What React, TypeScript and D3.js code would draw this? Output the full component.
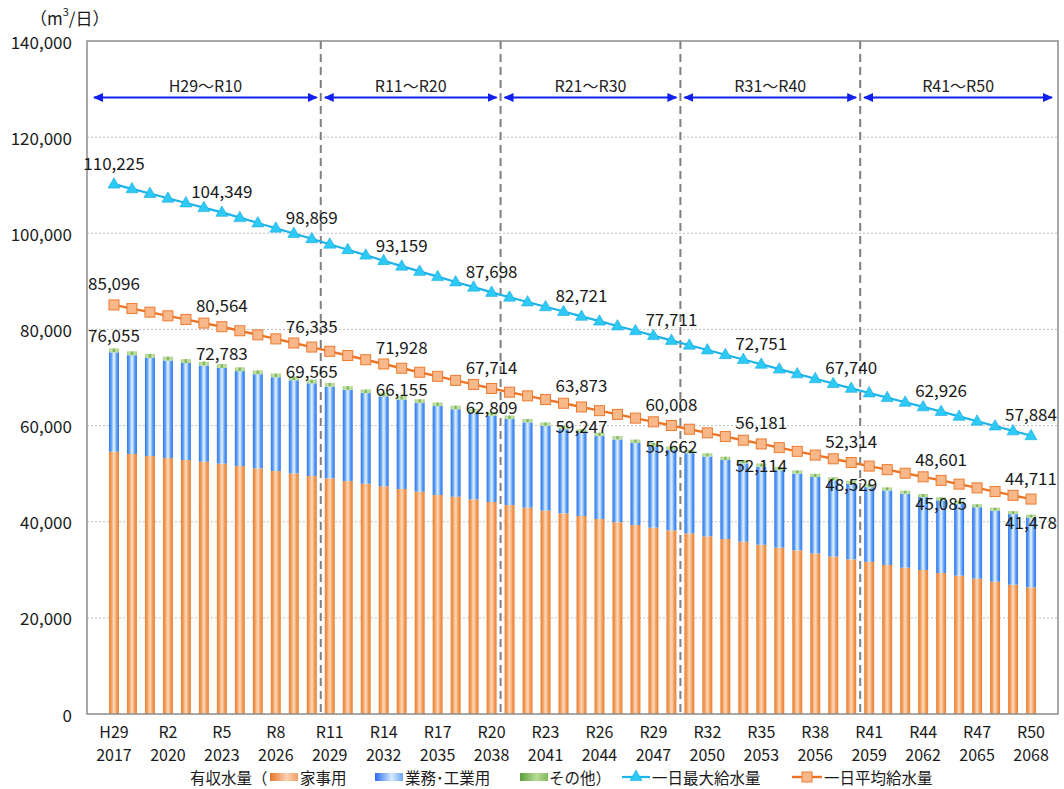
import React from 'react';
import * as d3 from 'd3';

// ---------- DATA ----------
const eraLabels = [
  'H29','H30','R1','R2','R3','R4','R5','R6','R7','R8','R9','R10','R11','R12','R13','R14','R15','R16','R17','R18',
  'R19','R20','R21','R22','R23','R24','R25','R26','R27','R28','R29','R30','R31','R32','R33','R34','R35','R36','R37','R38',
  'R39','R40','R41','R42','R43','R44','R45','R46','R47','R48','R49','R50',
];
const yearLabels = [
  '2017','2018','2019','2020','2021','2022','2023','2024','2025','2026','2027','2028','2029','2030','2031','2032','2033','2034','2035','2036',
  '2037','2038','2039','2040','2041','2042','2043','2044','2045','2046','2047','2048','2049','2050','2051','2052','2053','2054','2055','2056',
  '2057','2058','2059','2060','2061','2062','2063','2064','2065','2066','2067','2068',
];

// 家事用
const household = [
  54560, 54080, 53660, 53250, 52830, 52480, 52070, 51580, 51100, 50540,
  50060, 49500, 49020, 48460, 47900, 47360, 46800, 46240, 45550, 45200,
  44650, 44100, 43470, 42920, 42300, 41740, 41180, 40560, 39900, 39310,
  38760, 38200, 37560, 36950, 36400, 35840, 35200, 34600, 34040, 33400,
  32750, 32170, 31650, 31000, 30440, 29950, 29330, 28770, 28150, 27520,
  26900, 26350,
];
// 業務・工業用
const business = [
  20675, 20555, 20428, 20292, 20187, 20020, 19918, 19748, 19592, 19517,
  19360, 19289, 19088, 18972, 18856, 18720, 18599, 18488, 18512, 18196,
  18080, 17973, 17888, 17732, 17646, 17500, 17351, 17258, 17202, 17086,
  16920, 16766, 16698, 16602, 16446, 16300, 16238, 16128, 15972, 15906,
  15840, 15703, 15538, 15502, 15376, 15180, 15119, 14958, 14862, 14776,
  14680, 14512,
];
// その他
const other = [
  820, 815, 812, 808, 803, 800, 795, 792, 788, 783,
  780, 776, 772, 768, 764, 760, 756, 752, 748, 744,
  740, 736, 732, 728, 724, 720, 716, 712, 708, 704,
  700, 696, 692, 688, 684, 680, 676, 672, 668, 664,
  660, 656, 652, 648, 644, 640, 636, 632, 628, 624,
  620, 616,
];
// 一日最大給水量
const dailyMax = [
  110225, 109250, 108270, 107290, 106310, 105330, 104349, 103250, 102150, 101060,
  99960, 98869, 97730, 96590, 95450, 94300, 93159, 92070, 90980, 89880,
  88790, 87698, 86700, 85710, 84710, 83720, 82721, 81720, 80720, 79720,
  78710, 77711, 76720, 75730, 74740, 73740, 72751, 71750, 70750, 69740,
  68740, 67740, 66780, 65810, 64850, 63890, 62926, 61920, 60910, 59900,
  58890, 57884,
];
// 一日平均給水量
const dailyAvg = [
  85096, 84340, 83590, 82830, 82080, 81320, 80564, 79720, 78870, 78030,
  77180, 76335, 75450, 74570, 73690, 72810, 71928, 71090, 70240, 69400,
  68560, 67714, 66950, 66180, 65410, 64640, 63873, 63100, 62330, 61550,
  60780, 60008, 59240, 58480, 57710, 56950, 56181, 55410, 54640, 53860,
  53090, 52314, 51570, 50830, 50090, 49340, 48601, 47820, 47040, 46270,
  45490, 44711,
];
// 有収水量 totals (labelled)
const totalLabelled = [
  76055, 72783, 69565, 66155, 62809, 59247, 55662, 52114, 48529, 45085, 41478,
];
const labelIndices = [0, 6, 11, 16, 21, 26, 31, 36, 41, 46, 51];
const periodBreaks = [-1.5, 11.5, 21.5, 31.5, 41.5, 52.5];
const periodLabels = ['H29～R10', 'R11～R20', 'R21～R30', 'R31～R40', 'R41～R50'];
const yTicks = [0, 20000, 40000, 60000, 80000, 100000, 120000, 140000];

const FONT = "'Noto Sans CJK JP', 'Noto Sans', sans-serif";

export default function App() {
  const W = 1064, H = 789;
  const left = 87, right = 1058, top = 41, bottom = 714;
  const x = d3.scaleLinear().domain([-1.5, 52.5]).range([left, right]);
  const y = d3.scaleLinear().domain([0, 140000]).range([bottom, top]);
  const fmt = d3.format(',');
  const barW = 10;

  const rows = eraLabels.map((_, i) => ({
    i,
    household: household[i],
    business: business[i],
    other: other[i],
  }));
  const keys = ['household', 'business', 'other'];
  const stack = d3.stack<any>().keys(keys)(rows);
  const fills: Record<string, string> = {
    household: 'url(#gOrange)',
    business: 'url(#gBlue)',
    other: 'url(#gGreen)',
  };

  const lineGen = d3.line<number>().x((_, i) => x(i)).y((d) => y(d));
  const tri = d3.symbol().type(d3.symbolTriangle).size(62)();

  const xTickIdx = eraLabels.map((_, i) => i).filter((i) => i % 3 === 0);

  return (
    <svg width={W} height={H} style={{ position: 'absolute', left: 0, top: 0, background: '#fff' }}
      fontFamily={FONT}>
      <defs>
        <linearGradient id="gOrange" x1="0" x2="1" y1="0" y2="0">
          <stop offset="0" stopColor="#ec8132" />
          <stop offset="0.22" stopColor="#f09a58" />
          <stop offset="0.45" stopColor="#fcd2ae" />
          <stop offset="0.55" stopColor="#fcd2ae" />
          <stop offset="0.78" stopColor="#f09a58" />
          <stop offset="1" stopColor="#ec8132" />
        </linearGradient>
        <linearGradient id="gBlue" x1="0" x2="1" y1="0" y2="0">
          <stop offset="0" stopColor="#2f78ee" />
          <stop offset="0.22" stopColor="#5b9cf3" />
          <stop offset="0.45" stopColor="#d4e9fb" />
          <stop offset="0.55" stopColor="#d4e9fb" />
          <stop offset="0.78" stopColor="#5b9cf3" />
          <stop offset="1" stopColor="#2f78ee" />
        </linearGradient>
        <linearGradient id="gGreen" x1="0" x2="1" y1="0" y2="0">
          <stop offset="0" stopColor="#a5cf83" />
          <stop offset="0.3" stopColor="#c9e3ae" />
          <stop offset="0.45" stopColor="#7fb85a" />
          <stop offset="0.55" stopColor="#7fb85a" />
          <stop offset="0.7" stopColor="#c9e3ae" />
          <stop offset="1" stopColor="#a5cf83" />
        </linearGradient>
        <linearGradient id="lgOrange" x1="0" x2="1" y1="0" y2="0">
          <stop offset="0" stopColor="#e8742a" />
          <stop offset="0.6" stopColor="#fbd2b2" />
          <stop offset="1" stopColor="#f2a066" />
        </linearGradient>
        <linearGradient id="lgBlue" x1="0" x2="1" y1="0" y2="0">
          <stop offset="0" stopColor="#2a6cf0" />
          <stop offset="0.6" stopColor="#d6eafc" />
          <stop offset="1" stopColor="#6aa6f4" />
        </linearGradient>
        <linearGradient id="lgGreen" x1="0" x2="1" y1="0" y2="0">
          <stop offset="0" stopColor="#5e9e3e" />
          <stop offset="0.6" stopColor="#b8dc98" />
          <stop offset="1" stopColor="#7fb85a" />
        </linearGradient>
        <marker id="arrHead" viewBox="0 0 10 10" refX="9" refY="5" markerWidth="10" markerHeight="10"
          markerUnits="userSpaceOnUse" orient="auto-start-reverse">
          <path d="M0,0.5 L10,5 L0,9.5 Z" fill="#1020f0" />
        </marker>
      </defs>

      {/* gridlines */}
      {yTicks.filter((t) => t > 0 && t < 140000).map((t) => (
        <line key={'g' + t} x1={left} x2={right} y1={y(t)} y2={y(t)}
          stroke="#c0c0c0" strokeWidth={1} strokeDasharray="2,2" />
      ))}

      {/* bars */}
      {stack.map((layer) => (
        <g key={layer.key}>
          {layer.map((d, i) => (
            <rect key={i} x={x(i) - barW / 2} width={barW}
              y={y(d[1])} height={Math.max(0, y(d[0]) - y(d[1]))}
              fill={fills[layer.key]} />
          ))}
        </g>
      ))}

      {/* period dashed separators */}
      {periodBreaks.slice(1, -1).map((b) => (
        <line key={'d' + b} x1={x(b)} x2={x(b)} y1={top} y2={bottom}
          stroke="#7f7f7f" strokeWidth={2} strokeDasharray="8,5" />
      ))}

      {/* frame */}
      <rect x={left} y={top} width={right - left} height={bottom - top}
        fill="none" stroke="#8c8c8c" strokeWidth={1.5} />

      {/* period arrows */}
      {periodLabels.map((lab, k) => {
        const a = x(periodBreaks[k]) + (k === 0 ? 7 : 4);
        const b = x(periodBreaks[k + 1]) - (k === periodLabels.length - 1 ? 6 : 4);
        return (
          <g key={'p' + k}>
            <line x1={a} x2={b} y1={97.5} y2={97.5} stroke="#1020f0" strokeWidth={2.2}
              markerStart="url(#arrHead)" markerEnd="url(#arrHead)" />
            <text x={(a + b) / 2} y={85} textAnchor="middle" dominantBaseline="central"
              fontSize={16} fill="#222">{lab}</text>
          </g>
        );
      })}

      {/* lines */}
      <path d={lineGen(dailyMax) || ''} fill="none" stroke="#1cb2ea" strokeWidth={2.2} />
      {dailyMax.map((v, i) => (
        <path key={'t' + i} d={tri || ''} transform={`translate(${x(i)},${y(v) + 0.5})`}
          fill="#2ccaf5" stroke="#1aa8e0" strokeWidth={0.6} />
      ))}
      <path d={lineGen(dailyAvg) || ''} fill="none" stroke="#ec7424" strokeWidth={2.4} />
      {dailyAvg.map((v, i) => (
        <rect key={'s' + i} x={x(i) - 5} y={y(v) - 5} width={10} height={10}
          fill="#f9b88a" stroke="#ec7a30" strokeWidth={1} />
      ))}

      {/* data labels */}
      {labelIndices.map((i) => (
        <text key={'lm' + i} x={x(i)} y={y(dailyMax[i]) - 22} textAnchor="middle"
          dominantBaseline="central" fontSize={17} fill="#1a1a1a">{fmt(dailyMax[i])}</text>
      ))}
      {labelIndices.map((i) => (
        <text key={'la' + i} x={x(i)} y={y(dailyAvg[i]) - 22} textAnchor="middle"
          dominantBaseline="central" fontSize={17} fill="#1a1a1a">{fmt(dailyAvg[i])}</text>
      ))}
      {labelIndices.map((i, k) => (
        <text key={'lt' + i} x={x(i)} y={y(totalLabelled[k]) - 14 + 21 * (i / 51)} textAnchor="middle"
          dominantBaseline="central" fontSize={17} fill="#1a1a1a">{fmt(totalLabelled[k])}</text>
      ))}

      {/* y axis labels */}
      {yTicks.map((t) => (
        <text key={'y' + t} x={72} y={y(t)} textAnchor="end" dominantBaseline="central"
          fontSize={17} fill="#1a1a1a">{fmt(t)}</text>
      ))}
      <text x={30} y={17} dominantBaseline="central" fontSize={17} fill="#1a1a1a">
        （m<tspan fontSize={11} dy={-6}>3</tspan><tspan dy={6}>/日）</tspan>
      </text>

      {/* x axis labels */}
      {xTickIdx.map((i) => (
        <g key={'x' + i}>
          <text x={x(i)} y={730.5} textAnchor="middle" dominantBaseline="central" fontSize={16} fill="#1a1a1a">
            {eraLabels[i]}
          </text>
          <text x={x(i)} y={754} textAnchor="middle" dominantBaseline="central" fontSize={16} fill="#1a1a1a">
            {yearLabels[i]}
          </text>
        </g>
      ))}

      {/* legend */}
      <g fontSize={15.5} fill="#1a1a1a">
        <text x={190} y={777} dominantBaseline="central">有収水量（</text>
        <rect x={270} y={773} width={28} height={8} fill="url(#lgOrange)" />
        <text x={300} y={777} dominantBaseline="central">家事用</text>
        <rect x={375} y={773} width={28} height={8} fill="url(#lgBlue)" />
        <text x={405} y={777} dominantBaseline="central">業務･工業用</text>
        <rect x={520} y={773} width={28} height={8} fill="url(#lgGreen)" />
        <text x={549} y={777} dominantBaseline="central">その他）</text>
        <line x1={622} x2={650} y1={777} y2={777} stroke="#1cb2ea" strokeWidth={2.2} />
        <path d={tri || ''} transform="translate(636,777)" fill="#2ccaf5" stroke="#1aa8e0" strokeWidth={0.6} />
        <text x={652} y={777} dominantBaseline="central">一日最大給水量</text>
        <line x1={792} x2={822} y1={777} y2={777} stroke="#ec7424" strokeWidth={2.4} />
        <rect x={802} y={772} width={10} height={10} fill="#f9b88a" stroke="#ec7a30" strokeWidth={1} />
        <text x={824} y={777} dominantBaseline="central">一日平均給水量</text>
      </g>
    </svg>
  );
}
